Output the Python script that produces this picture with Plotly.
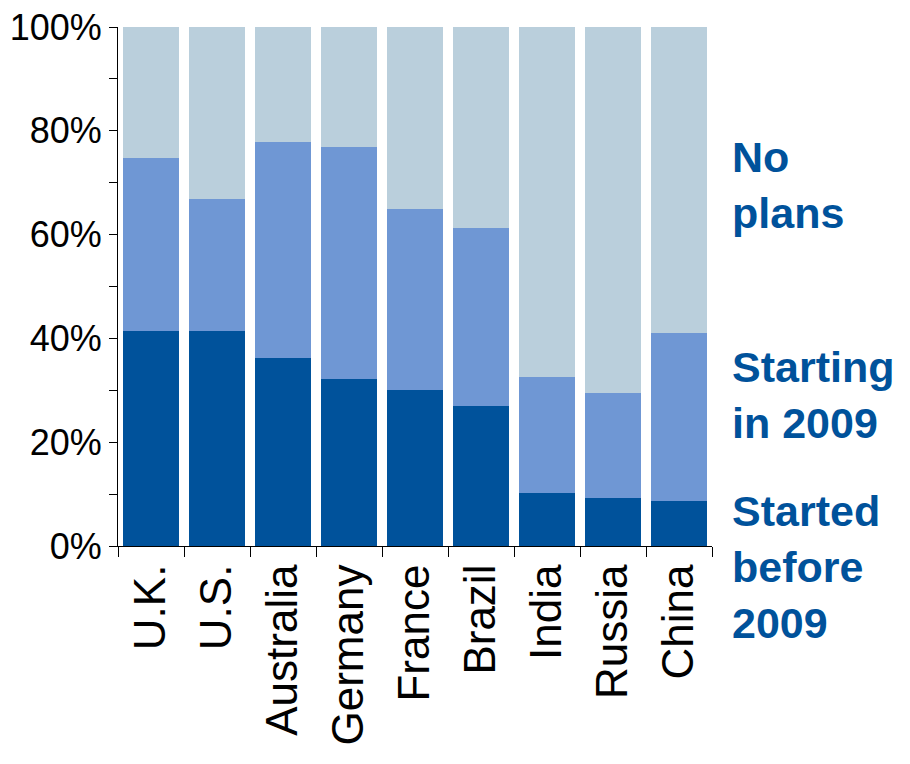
import plotly.graph_objects as go

countries = ["U.K.", "U.S.", "Australia", "Germany", "France", "Brazil", "India", "Russia", "China"]
started_before = [41.4, 41.4, 36.2, 32.2, 30.1, 27.0, 10.2, 9.2, 8.7]
starting_2009 = [33.4, 25.5, 41.6, 44.7, 34.8, 34.3, 22.4, 20.3, 32.3]
no_plans = [25.2, 33.1, 22.2, 23.1, 35.1, 38.7, 67.4, 70.5, 59.0]

series_names = ["Started<br>before<br>2009", "Starting<br>in 2009", "No<br>plans"]
label_y = [-0.04, 0.29, 0.696]
colors = ["#00529B", "#6F97D4", "#BACFDC"]

fig = go.Figure()
for vals, c, nm in zip([started_before, starting_2009, no_plans], colors, series_names):
    fig.add_trace(go.Bar(x=countries, y=vals, marker=dict(color=c, line=dict(width=0)),
                         name=nm, showlegend=False))

for nm, yy in zip(series_names, label_y):
    fig.add_annotation(x=1.03, xref="paper", y=yy, yref="paper", text=nm, showarrow=False,
                       xanchor="left", yanchor="middle", align="left",
                       font=dict(family="Liberation Sans, Arial", size=43, color="#00529B", weight="bold"))

fig.update_layout(
    barmode="stack", bargap=0.15,
    width=910, height=764,
    margin=dict(l=110, r=206, t=19, b=226, autoexpand=False),
    plot_bgcolor="white", paper_bgcolor="white",
    font=dict(family="Liberation Sans, Arial", color="black"),
)
fig.update_yaxes(range=[0, 100], dtick=20, ticksuffix="%", ticks="outside", ticklen=8,
                 tickcolor="black", showline=True, linecolor="black", linewidth=1,
                 showgrid=False, zeroline=False, tickfont=dict(size=36), automargin=False,
                 ticklabeloverflow="allow",
                 minor=dict(dtick=10, ticks="outside", ticklen=8, tickcolor="black", showgrid=False))
fig.update_xaxes(tickangle=-90, ticks="outside", tickson="boundaries", ticklen=10,
                 tickcolor="black", showline=True, linecolor="black", linewidth=1,
                 showgrid=False, tickfont=dict(size=44), automargin=False,
                 ticklabeloverflow="allow")

fig.write_html("out.html")
